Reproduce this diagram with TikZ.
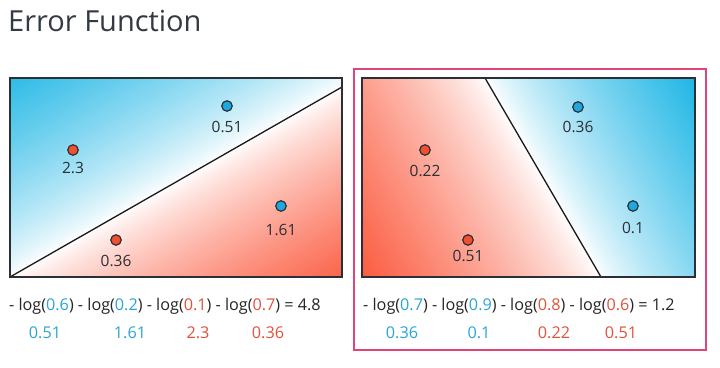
\documentclass[tikz,border=0pt]{standalone}
\usepackage{fontspec}
\setmainfont{Open Sans}
\definecolor{bgblue}{HTML}{1CB5E5}
\definecolor{bgred}{HTML}{FB5A3E}
\definecolor{dotblue}{HTML}{1FA8E0}
\definecolor{dotred}{HTML}{F0502F}
\definecolor{txtblue}{HTML}{2AA6D6}
\definecolor{txtred}{HTML}{E0533A}
\definecolor{edge}{HTML}{2B2F36}
\definecolor{frame}{HTML}{E0457A}
\definecolor{titlegray}{HTML}{333A44}
\tikzset{
  dotb/.style={circle,draw=edge,fill=dotblue,line width=1.2pt,minimum size=10.5pt,inner sep=0pt},
  dotr/.style={circle,draw=edge,fill=dotred,line width=1.2pt,minimum size=10.5pt,inner sep=0pt},
  val/.style={font=\fontsize{15.5}{17}\selectfont,text=edge,inner sep=0pt},
  eq/.style={font=\fontsize{16.2}{19}\selectfont,text=black!85,inner sep=0pt,anchor=west},
  low/.style={font=\fontsize{16.2}{19}\selectfont,inner sep=0pt},
  panel/.style={draw=edge,line width=1.5pt},
  sep/.style={draw=black!90,line width=1.3pt}
}
\begin{document}
\begin{tikzpicture}[x=1pt,y=-1pt]
\useasboundingbox (0,0) rectangle (720,367);
\fill[white] (0,0) rectangle (720,367);
\node[anchor=west,inner sep=0pt,font=\fontsize{29}{32}\selectfont,text=titlegray] (title) at (8,21) {Error Function};

% ---------- left panel ----------
\begin{scope}
\clip (10,78) rectangle (342,277);
\begin{scope}[shift={(176,182)},rotate=29.78]
\foreach \i in {0,...,59}{
  \pgfmathsetmacro{\p}{100*((\i+0.5)/60)^0.8}
  \fill[bgblue!\p!white] (-450,{-\i*3.2}) rectangle (450,{-(\i+1)*3.2-0.6});
  \fill[bgred!\p!white] (-450,{\i*3.0}) rectangle (450,{(\i+1)*3.0+0.6});
}
\end{scope}
\end{scope}
\coordinate (la) at (10,277);
\coordinate (lb) at (342,87);
\draw[sep] (la) -- (lb);
\draw[panel] (10,78) rectangle (342,277);
\node[dotb] (l1) at (227,106) {};
\node[val] (l1t) at (227,127) {0.51};
\node[dotr] (l2) at (73,150) {};
\node[val] (l2t) at (73,168) {2.3};
\node[dotb] (l3) at (281,206) {};
\node[val] (l3t) at (281,230) {1.61};
\node[dotr] (l4) at (116,240) {};
\node[val] (l4t) at (116,261) {0.36};

\node[eq] (leq) at (9,306) {- log(\textcolor{txtblue}{0.6}) - log(\textcolor{txtblue}{0.2}) - log(\textcolor{txtred}{0.1}) - log(\textcolor{txtred}{0.7}) = 4.8};
\node[low,text=txtblue] (lv1) at (45,333) {0.51};
\node[low,text=txtblue] (lv2) at (130,333) {1.61};
\node[low,text=txtred] (lv3) at (198,333) {2.3};
\node[low,text=txtred] (lv4) at (268,333) {0.36};

% ---------- right panel ----------
\draw[frame,line width=1.5pt] (354,69) rectangle (706,350);
\begin{scope}
\clip (362,78) rectangle (695,277);
\begin{scope}[shift={(543,177.5)},rotate=-59.76]
\foreach \i in {0,...,59}{
  \pgfmathsetmacro{\p}{100*((\i+0.5)/60)^0.8}
  \fill[bgred!\p!white] (-450,{\i*3.5}) rectangle (450,{(\i+1)*3.5+0.6});
  \fill[bgblue!\p!white] (-450,{-\i*3.1}) rectangle (450,{-(\i+1)*3.1-0.6});
}
\end{scope}
\end{scope}
\coordinate (ra) at (485,78);
\coordinate (rb) at (601,277);
\draw[sep] (ra) -- (rb);
\draw[panel] (362,78) rectangle (695,277);
\node[dotb] (r1) at (578,107) {};
\node[val] (r1t) at (578,127) {0.36};
\node[dotr] (r2) at (425,150) {};
\node[val] (r2t) at (425,171) {0.22};
\node[dotb] (r3) at (633,206) {};
\node[val] (r3t) at (633,228) {0.1};
\node[dotr] (r4) at (468,240) {};
\node[val] (r4t) at (468,256) {0.51};

\node[eq] (req) at (363,306) {- log(\textcolor{txtblue}{0.7}) - log(\textcolor{txtblue}{0.9}) - log(\textcolor{txtred}{0.8}) - log(\textcolor{txtred}{0.6}) = 1.2};
\node[low,text=txtblue] (rv1) at (402,333) {0.36};
\node[low,text=txtblue] (rv2) at (479,333) {0.1};
\node[low,text=txtred] (rv3) at (554,333) {0.22};
\node[low,text=txtred] (rv4) at (621,333) {0.51};
\end{tikzpicture}
\end{document}
